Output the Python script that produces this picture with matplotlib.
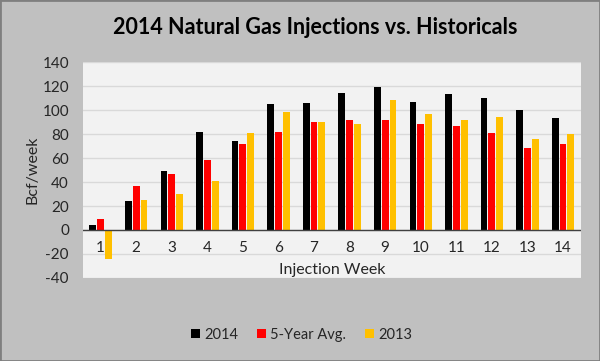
import numpy as np
import matplotlib.pyplot as plt
from matplotlib.patches import Rectangle

weeks = [str(i) for i in range(1, 15)]
y2014 = [4, 24, 49, 82, 74, 105, 106, 114, 119, 107, 113, 110, 100, 93]
avg5 = [9, 37, 47, 58, 72, 82, 90, 92, 92, 88, 87, 81, 68, 72]
y2013 = [-24, 25, 30, 41, 81, 98, 90, 88, 108, 97, 92, 94, 76, 80]

plt.rcParams['font.family'] = ['Lato', 'DejaVu Sans']
plt.rcParams['axes.unicode_minus'] = False

fig = plt.figure(figsize=(6, 3.61), dpi=100, facecolor='#c0c0c0')
fig.patches.append(Rectangle((0, 0), 1, 1, transform=fig.transFigure,
                             fill=False, edgecolor='#7f7f7f', lw=2))
ax = fig.add_axes([0.138, 0.230, 0.830, 0.598])
ax.set_facecolor('#f2f2f2')

x = np.arange(len(weeks))
w = 0.19
ax.bar(x - 0.22, y2014, w, color='black', label='2014', zorder=3)
ax.bar(x, avg5, w, color='#ff0000', label='5-Year Avg.', zorder=3)
ax.bar(x + 0.22, y2013, w, color='#ffc000', label='2013', zorder=3)

ax.set_xlim(-0.5, len(weeks) - 0.5)
ax.set_ylim(-40, 140)
ax.set_yticks(range(-40, 141, 20))
ax.yaxis.grid(True, color='#d9d9d9', lw=1, zorder=0)
ax.axhline(0, color='#404040', lw=1, zorder=4)
for s in ax.spines.values():
    s.set_visible(False)
ax.set_xticks([])
ax.tick_params(axis='y', length=0, labelsize=11, colors='#262626', pad=10)
for i, lab in enumerate(weeks):
    ax.text(i, -15, lab, ha='center', va='center', fontsize=11, color='#262626')
ax.text(0.5, 0.035, 'Injection Week', transform=ax.transAxes, ha='center',
        va='center', fontsize=11.5, color='#262626')
ax.set_ylabel('Bcf/week', fontsize=11.5, color='#262626', labelpad=2)

fig.text(0.525, 0.925, '2014 Natural Gas Injections vs. Historicals', ha='center',
         va='center', fontsize=15.5, fontweight='bold', color='black')
fig.legend(loc='center', bbox_to_anchor=(0.503, 0.072), ncol=3, frameon=False,
           fontsize=10.5, handlelength=0.6, handleheight=0.6, handletextpad=0.3,
           columnspacing=1.3, labelcolor='#262626')

fig.savefig('out.png', dpi=100, facecolor=fig.get_facecolor())
